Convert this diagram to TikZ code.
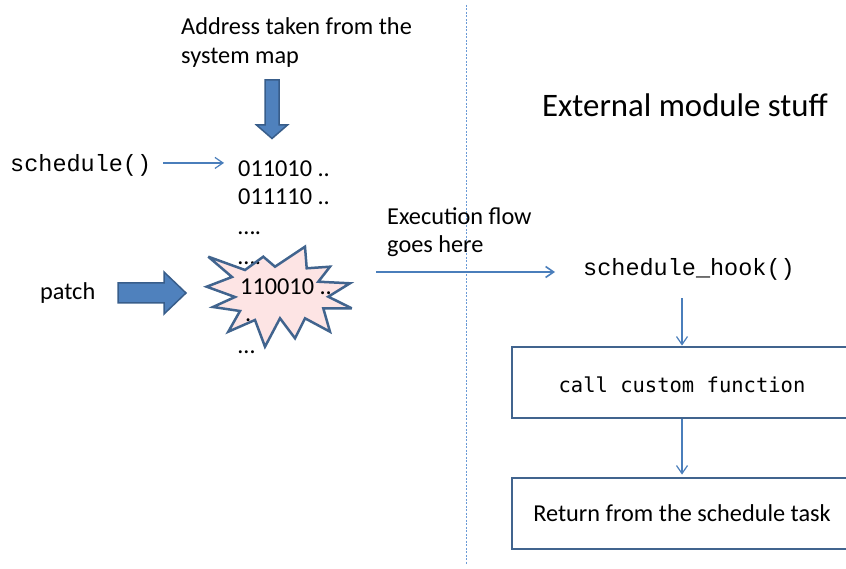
\documentclass[tikz,border=0pt]{standalone}
\usepackage{fontspec}
\setmainfont{Carlito}
\newfontfamily\courfont{Liberation Mono}
\newfontfamily\sansmonofont{DejaVu Sans Mono}
\usetikzlibrary{arrows.meta}
\definecolor{linkblue}{HTML}{4A7EBB}
\definecolor{boxblue}{HTML}{41648E}
\definecolor{fillblue}{HTML}{4F81BD}
\definecolor{edgeblue}{HTML}{385D8A}
\definecolor{burstpink}{HTML}{FDE4E4}
\definecolor{dashblue}{HTML}{6A9AD6}
\begin{document}
\begin{tikzpicture}[x=1pt,y=-1pt,
  txt/.style={inner sep=0pt, anchor=base west, font=\fontsize{24.3}{29}\selectfont},
  code/.style={inner sep=0pt, anchor=base west, font=\courfont\fontsize{23.5}{28}\selectfont},
  arr/.style={draw=linkblue, line width=1.2pt, -{Straight Barb[length=8pt,width=11pt]}},
  box/.style={draw=boxblue, line width=2.8pt, fill=white, minimum width=340pt, minimum height=71pt, inner sep=0pt},
  block/.style={fill=fillblue, draw=edgeblue, line width=1.5pt, line join=miter},
  burst/.style={draw=boxblue, line width=2.5pt, line join=miter, miter limit=4},
]
\useasboundingbox (0,0) rectangle (846,569);
\clip (0,0) rectangle (846,569);

% divider
\draw[dashblue, line width=1pt, dash pattern=on 2pt off 1.5pt] (466,5) -- (466,565);

% headings
\node[txt] (addr1) at (181,35) {Address taken from the};
\node[txt] (addr2) at (181,64) {system map};
\node[txt, font=\fontsize{32.8}{38}\selectfont] (ext) at (542,117) {External module stuff};

% big down arrow
\draw[block] (265,80) -- (279,80) -- (279,125) -- (287.5,125) -- (272,138.5) -- (256.5,125) -- (265,125) -- cycle;

% burst fill
\fill[burstpink] (208.3,256.7) -- (245,270) -- (263.3,256.7) -- (275,266.7) -- (305,246.7) -- (306.7,268.3) -- (330,266.7) -- (318.3,281.7) -- (350,283.3) -- (328.3,296.7) -- (351.7,308.3) -- (323.3,308.3) -- (330,331.7) -- (305,318.3) -- (295,338.3) -- (280,318.3) -- (265,346.7) -- (255,320) -- (228.3,331.7) -- (240,311) -- (213,307) -- (235,297) -- (206.7,286.7) -- (232,277) -- cycle;

% code listing
\node[code] (sched) at (10,172) {schedule()};
\node[txt] (b1) at (238,177) {011010 ..};
\node[txt] (b2) at (238,205) {011110 ..};
\node[txt] (b3) at (238,235) {….};
\node[txt] (b4) at (238,265) {….};
\node[txt] (b5) at (240,295) {110010 ..};
\node[txt] (b6) at (245,322) {.};
\node[txt] (b7) at (238,353) {…};

% burst outline
\draw[burst] (208.3,256.7) -- (245,270) -- (263.3,256.7) -- (275,266.7) -- (305,246.7) -- (306.7,268.3) -- (330,266.7) -- (318.3,281.7) -- (350,283.3) -- (328.3,296.7) -- (351.7,308.3) -- (323.3,308.3) -- (330,331.7) -- (305,318.3) -- (295,338.3) -- (280,318.3) -- (265,346.7) -- (255,320) -- (228.3,331.7) -- (240,311) -- (213,307) -- (235,297) -- (206.7,286.7) -- (232,277) -- cycle;

% patch
\node[txt] (patch) at (40,300) {patch};
\draw[block] (118,283) -- (164,283) -- (164,272) -- (186,293) -- (164,314) -- (164,303) -- (118,303) -- cycle;

% schedule() arrow
\draw[arr, shorten <=12pt, shorten >=14pt] ([yshift=3pt]sched.east) -- ([yshift=3pt]sched.east -| b1.west);

% execution flow
\node[txt] (exec1) at (387,225) {Execution flow};
\node[txt] (exec2) at (387,253) {goes here};
\coordinate (flowstart) at (376,272);
\node[code] (hook) at (583,276) {schedule\_hook()};
\draw[arr, line width=1.6pt, shorten >=28pt] (flowstart) -- (flowstart -| hook.west);

% boxes
\node[box, font=\sansmonofont\fontsize{20.5}{24}\selectfont, text height=20pt, text depth=0pt] (call) at (682,382.5) {call custom function};
\node[box, font=\fontsize{24.3}{29}\selectfont] (ret) at (682,513.5) {Return from the schedule task};

\draw[arr, shorten <=17pt] (call.north |- hook.south) -- (call.north);
\draw[arr, shorten >=2pt] (call.south) -- (ret.north);
\end{tikzpicture}
\end{document}
